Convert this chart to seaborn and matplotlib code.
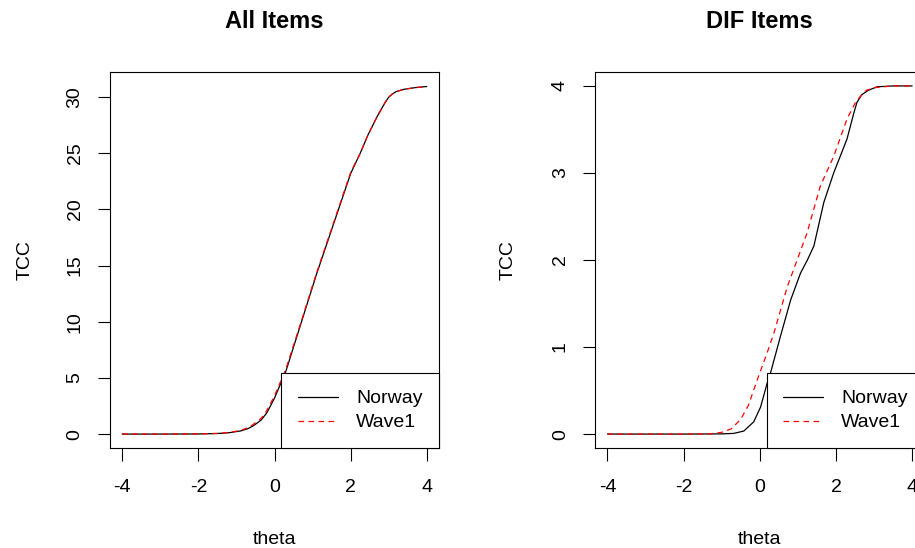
import matplotlib
matplotlib.use("Agg")
import matplotlib.pyplot as plt
import seaborn as sns
import pandas as pd

# ---------------- data ----------------
titles = ["All Items", "DIF Items"]
series_names = ["Norway", "Wave1"]
x_ticks = [-4, -2, 0, 2, 4]
y_ticks_all = [0, 5, 10, 15, 20, 25, 30]
y_ticks_dif = [0, 1, 2, 3, 4]

all_norway_theta = [-4, -3, -2, -1.5, -1.2, -0.9, -0.7, -0.55, -0.35, -0.2, 0.0,
                    0.3, 0.7, 1.1, 1.55, 2.0, 2.25, 2.45, 2.7, 2.9, 3.0, 3.1,
                    3.2, 3.4, 3.7, 4.0]
all_norway_tcc = [0.0, 0.0, 0.01, 0.05, 0.12, 0.27, 0.48, 0.75, 1.25, 1.9, 3.2,
                  5.6, 9.9, 14.2, 18.7, 23.2, 25.0, 26.6, 28.3, 29.5, 30.0, 30.3,
                  30.5, 30.7, 30.85, 30.95]

all_wave1_theta = [-4, -3, -2, -1.5, -1.2, -0.9, -0.7, -0.55, -0.35, -0.2, 0.0,
                   0.3, 0.7, 1.1, 1.55, 2.0, 2.25, 2.45, 2.7, 2.9, 3.0, 3.1,
                   3.2, 3.4, 3.7, 4.0]
all_wave1_tcc = [0.0, 0.0, 0.01, 0.06, 0.14, 0.32, 0.56, 0.88, 1.4, 2.1, 3.4,
                 5.8, 10.0, 14.3, 18.8, 23.3, 25.0, 26.6, 28.3, 29.5, 30.0, 30.3,
                 30.5, 30.7, 30.85, 30.95]

dif_norway_theta = [-4, -2, -1.0, -0.68, -0.42, -0.16, 0.02, 0.19, 0.28, 0.54,
                    0.81, 1.07, 1.25, 1.42, 1.68, 1.94, 2.29, 2.47, 2.55, 2.68,
                    2.85, 3.08, 3.5, 4.0]
dif_norway_tcc = [0.0, 0.0, 0.002, 0.008, 0.035, 0.14, 0.31, 0.58, 0.70, 1.12,
                  1.54, 1.85, 2.0, 2.16, 2.66, 3.0, 3.39, 3.69, 3.81, 3.90,
                  3.95, 3.99, 4.0, 4.0]

dif_wave1_theta = [-4, -2, -1.3, -1.0, -0.75, -0.5, -0.3, -0.07, 0.19, 0.37,
                   0.72, 0.98, 1.24, 1.59, 1.94, 2.29, 2.5, 2.64, 2.8, 3.0,
                   3.5, 4.0]
dif_wave1_tcc = [0.0, 0.0, 0.003, 0.02, 0.06, 0.17, 0.33, 0.62, 0.93, 1.16,
                 1.69, 2.0, 2.31, 2.85, 3.19, 3.62, 3.80, 3.88, 3.95, 3.98,
                 4.0, 4.0]

# ---------------- style ----------------
sns.set_theme(style="ticks", rc={
    "axes.edgecolor": "black",
    "axes.linewidth": 0.8,
    "xtick.color": "black",
    "ytick.color": "black",
    "xtick.major.size": 9,
    "ytick.major.size": 9,
    "xtick.major.width": 0.8,
    "ytick.major.width": 0.8,
    "text.color": "black",
    "axes.labelcolor": "black",
})
plt.rcParams["font.family"] = ["Liberation Sans", "DejaVu Sans"]

FS = 14
fig = plt.figure(figsize=(9.15, 5.48), dpi=100)

W, H = 915, 548
ax_w = 329 / W
ax_h = 376 / H
bottom = (H - 448) / H
ax1 = fig.add_axes([110 / W, bottom, ax_w, ax_h])
ax2 = fig.add_axes([595.3 / W, bottom, ax_w, ax_h])

panels = [
    (ax1, titles[0], all_norway_theta, all_norway_tcc, all_wave1_theta, all_wave1_tcc,
     y_ticks_all, (-1.24, 32.24), -0.257),
    (ax2, titles[1], dif_norway_theta, dif_norway_tcc, dif_wave1_theta, dif_wave1_tcc,
     y_ticks_dif, (-0.16, 4.16), -0.264),
]

for ax, title, nx, ny, wx, wy, yt, ylim, ylab_x in panels:
    df_n = pd.DataFrame({"theta": nx, "TCC": ny})
    df_w = pd.DataFrame({"theta": wx, "TCC": wy})
    sns.lineplot(data=df_n, x="theta", y="TCC", ax=ax, color="black",
                 linewidth=0.9, label=series_names[0])
    sns.lineplot(data=df_w, x="theta", y="TCC", ax=ax, color="#FF0000",
                 linewidth=0.9, linestyle=(0, (4.5, 3.5)), label=series_names[1])
    ax.set_xlim(-4.32, 4.32)
    ax.set_ylim(*ylim)
    ax.set_xticks(x_ticks)
    ax.set_xticklabels([str(v) for v in x_ticks], fontsize=FS)
    ax.set_yticks(yt)
    ax.set_yticklabels([str(v) for v in yt], fontsize=FS, rotation=90, va="center")
    ax.tick_params(axis="x", pad=13.5)
    ax.tick_params(axis="y", pad=10)
    for s in ax.spines.values():
        s.set_visible(True)
        s.set_color("black")
        s.set_linewidth(0.8)
    ax.set_xlabel("theta", fontsize=FS)
    ax.xaxis.set_label_coords(0.5, -0.243)
    ax.xaxis.label.set_va("center")
    ax.set_ylabel("TCC", fontsize=FS)
    ax.yaxis.set_label_coords(ylab_x, 0.5)
    ax.yaxis.label.set_va("center")
    ax.set_title(title, fontsize=17, fontweight="bold", y=1.133, va="center", pad=0)
    leg = ax.legend(loc="lower right", bbox_to_anchor=(1, 0), borderaxespad=0,
                    fontsize=FS, frameon=True, fancybox=False, framealpha=1,
                    edgecolor="black", handlelength=2.05, handletextpad=0.94,
                    borderpad=0.85, labelspacing=0.33)
    leg.get_frame().set_linewidth(0.8)

fig.savefig("out.png", dpi=100)
